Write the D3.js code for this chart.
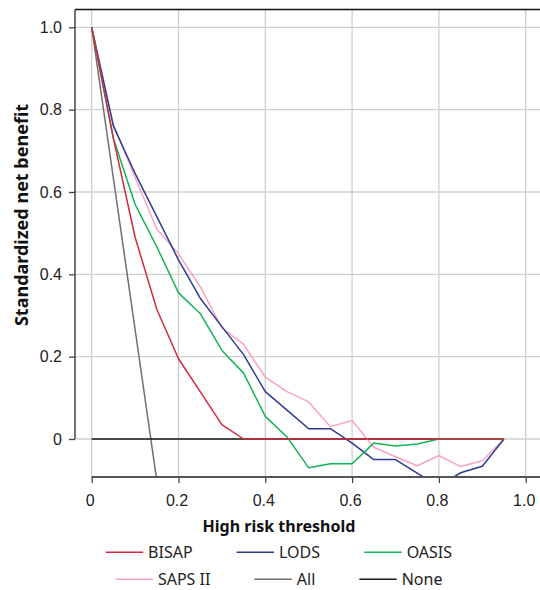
<!DOCTYPE html>
<html>
<head>
<meta charset="utf-8">
<script src="https://cdn.jsdelivr.net/npm/d3@7"></script>
<style>
  body { margin: 0; background: #fff; }
  svg { font-family: "Noto Sans", sans-serif; }
</style>
</head>
<body>
<div id="chart"></div>
<script>
const thresholds = [0, 0.05, 0.1, 0.15, 0.2, 0.25, 0.3, 0.35, 0.4, 0.45, 0.5, 0.55, 0.6, 0.65, 0.7, 0.75, 0.8, 0.85, 0.9, 0.95];

const bisap = [1, 0.73, 0.49, 0.315, 0.195, 0.115, 0.035, 0, 0, 0, 0, 0, 0, 0, 0, 0, 0, 0, 0, 0];
const lods = [1, 0.76, 0.645, 0.54, 0.435, 0.342, 0.273, 0.205, 0.115, 0.07, 0.025, 0.025, -0.01, -0.05, -0.05, -0.083, -0.115, -0.082, -0.066, 0];
const oasis = [1, 0.73, 0.57, 0.467, 0.355, 0.305, 0.215, 0.16, 0.055, 0.005, -0.07, -0.06, -0.06, -0.01, -0.017, -0.012, 0, 0, 0, 0];
const saps = [1, 0.765, 0.635, 0.51, 0.45, 0.37, 0.27, 0.23, 0.15, 0.115, 0.09, 0.03, 0.045, -0.02, -0.043, -0.065, -0.04, -0.067, -0.053, 0];
const all = [1, 0.633, 0.266, -0.101];
const none = [0, 0, 0, 0, 0, 0, 0, 0, 0, 0, 0, 0, 0, 0, 0, 0, 0, 0, 0, 0];

const seriesNames = ["BISAP", "LODS", "OASIS", "SAPS II", "All", "None"];
const seriesColors = ["#d12a3c", "#2e3b96", "#14b356", "#f7a3c6", "#6f6f6f", "#1a1a1a"];
const xTicks = [0, 0.2, 0.4, 0.6, 0.8, 1.0];
const yTicks = [0, 0.2, 0.4, 0.6, 0.8, 1.0];

const width = 540, height = 590;
const plot = {left: 75, top: 9.5, right: 545, bottom: 477};

const svg = d3.select("#chart").append("svg")
  .attr("width", width)
  .attr("height", height);

const x = d3.scaleLinear().domain([0, 1]).range([91.7, 525.7]);
const y = d3.scaleLinear().domain([0, 1]).range([439, 27.3]);

// grid
svg.append("g")
  .attr("class", "grid")
  .selectAll("line.v")
  .data(xTicks)
  .enter().append("line")
  .attr("x1", d => x(d)).attr("x2", d => x(d))
  .attr("y1", plot.top).attr("y2", plot.bottom)
  .style("stroke", "#cfcfcf")
  .style("stroke-width", 1.3);

svg.append("g")
  .attr("class", "grid")
  .selectAll("line.h")
  .data(yTicks)
  .enter().append("line")
  .attr("x1", plot.left).attr("x2", plot.right)
  .attr("y1", d => y(d)).attr("y2", d => y(d))
  .style("stroke", "#cfcfcf")
  .style("stroke-width", 1.3);

svg.append("clipPath")
  .attr("id", "clip")
  .append("rect")
  .attr("x", plot.left).attr("y", plot.top)
  .attr("width", plot.right - plot.left)
  .attr("height", plot.bottom - plot.top);

const line = d3.line()
  .x((d, i) => x(thresholds[i]))
  .y(d => y(d));

// drawing order: All, None, SAPS II, LODS, OASIS, BISAP
const drawOrder = [
  {values: all, idx: 4},
  {values: none, idx: 5},
  {values: saps, idx: 3},
  {values: lods, idx: 1},
  {values: oasis, idx: 2},
  {values: bisap, idx: 0}
];

svg.append("g")
  .attr("class", "lines")
  .attr("clip-path", "url(#clip)")
  .selectAll("path")
  .data(drawOrder)
  .enter().append("path")
  .attr("d", d => line(d.values))
  .style("fill", "none")
  .style("stroke", d => seriesColors[d.idx])
  .style("stroke-width", 1.5)
  .style("stroke-linejoin", "round");

// top frame line
svg.append("line")
  .attr("x1", plot.left).attr("x2", plot.right)
  .attr("y1", plot.top).attr("y2", plot.top)
  .style("stroke", "#111")
  .style("stroke-width", 1.6);

// y axis (only spans 0 .. top)
const yAxis = d3.axisLeft(y)
  .tickValues(yTicks)
  .tickSize(6)
  .tickSizeOuter(0)
  .tickPadding(7)
  .tickFormat(d => d === 0 ? "0" : d3.format(".1f")(d));

const gy = svg.append("g")
  .attr("class", "y axis")
  .attr("transform", "translate(" + plot.left + ",0)")
  .call(yAxis);
gy.select(".domain").remove();
gy.append("line")
  .attr("x1", 0).attr("x2", 0)
  .attr("y1", plot.top).attr("y2", y(0))
  .style("stroke", "#444")
  .style("stroke-width", 1.5);
gy.selectAll(".tick line").style("stroke", "#444").style("stroke-width", 1.3);
gy.selectAll(".tick text")
  .style("font-size", "16px")
  .style("fill", "#222");

// x axis (starts at 0)
const xAxis = d3.axisBottom(x)
  .tickValues(xTicks)
  .tickSize(6)
  .tickSizeOuter(0)
  .tickPadding(11.5)
  .tickFormat(d => d === 0 ? "0" : d3.format(".1f")(d));

const gx = svg.append("g")
  .attr("class", "x axis")
  .attr("transform", "translate(0," + plot.bottom + ")")
  .call(xAxis);
gx.select(".domain").remove();
gx.append("line")
  .attr("x1", x(0)).attr("x2", plot.right)
  .attr("y1", 0).attr("y2", 0)
  .style("stroke", "#555")
  .style("stroke-width", 2.2);
gx.selectAll(".tick line").style("stroke", "#444").style("stroke-width", 1.3);
gx.selectAll(".tick text")
  .style("font-size", "16px")
  .style("fill", "#222")
  .attr("dx", -2);

// axis titles
svg.append("text")
  .attr("x", 279)
  .attr("y", 531.5)
  .attr("text-anchor", "middle")
  .style("font-size", "16px")
  .style("font-weight", "bold")
  .style("fill", "#111")
  .text("High risk threshold");

svg.append("text")
  .attr("transform", "translate(27.5,215) rotate(-90)")
  .attr("text-anchor", "middle")
  .style("font-size", "18px")
  .style("font-weight", "bold")
  .style("fill", "#111")
  .text("Standardized net benefit");

// legend, two centred rows
const legendRows = [[0, 1, 2], [3, 4, 5]];
const legendY = [552.3, 579.3];
const sampleLen = 37.4, textGap = 5, entryGap = 44, legendCenter = 279;

legendRows.forEach((row, r) => {
  const g = svg.append("g").attr("class", "legend");
  const items = g.selectAll("g")
    .data(row)
    .enter().append("g");

  items.append("line")
    .attr("x1", 0).attr("x2", sampleLen)
    .attr("y1", 0).attr("y2", 0)
    .style("stroke", d => seriesColors[d])
    .style("stroke-width", 1.6);

  items.append("text")
    .attr("x", sampleLen + textGap)
    .attr("dy", "0.35em")
    .style("font-size", "16px")
    .style("fill", "#222")
    .text(d => seriesNames[d]);

  const widths = items.nodes().map(n => n.getBBox().width);
  const total = d3.sum(widths) + entryGap * (row.length - 1);
  let cx = legendCenter - total / 2;
  items.attr("transform", (d, i) => {
    const t = "translate(" + cx + "," + legendY[r] + ")";
    cx += widths[i] + entryGap;
    return t;
  });
});
</script>
</body>
</html>
